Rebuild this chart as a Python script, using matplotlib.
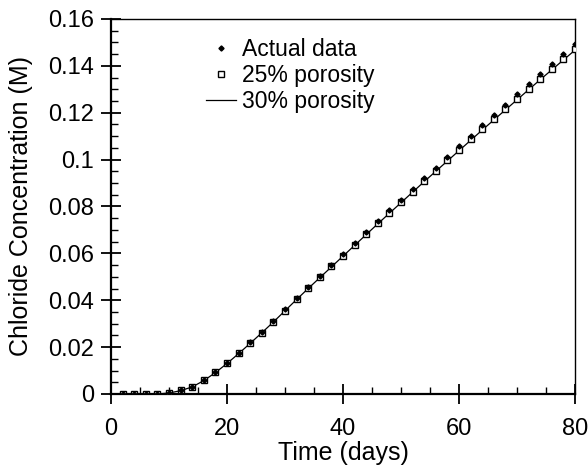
import matplotlib.pyplot as plt
from matplotlib.ticker import MultipleLocator

plt.rcParams['font.family'] = ['Liberation Sans', 'DejaVu Sans']

# sampling days
days = list(range(2, 82, 2))

# measured chloride concentration (M)
actual = [0.0, 0.0, 0.0, 0.0, 0.0006, 0.0016, 0.0031, 0.0060, 0.0094, 0.0133,
          0.0176, 0.0220, 0.0266, 0.0313, 0.0361, 0.0410, 0.0458, 0.0505, 0.0551, 0.0598,
          0.0644, 0.0691, 0.0737, 0.0783, 0.0829, 0.0875, 0.0921, 0.0966, 0.1011, 0.1056,
          0.1101, 0.1146, 0.1190, 0.1234, 0.1278, 0.1322, 0.1366, 0.1409, 0.1451, 0.1492]

# model, 25% porosity
por25 = [0.0, 0.0, 0.0, 0.0, 0.0005, 0.0015, 0.0030, 0.0058, 0.0092, 0.0131,
         0.0173, 0.0217, 0.0262, 0.0309, 0.0356, 0.0405, 0.0452, 0.0498, 0.0544, 0.0590,
         0.0636, 0.0682, 0.0728, 0.0773, 0.0818, 0.0863, 0.0908, 0.0953, 0.0997, 0.1041,
         0.1086, 0.1130, 0.1173, 0.1216, 0.1259, 0.1302, 0.1345, 0.1387, 0.1429, 0.1471]

# model, 30% porosity (continuous line)
line_days = [0] + days
por30 = [0.0, 0.0, 0.0, 0.0, 0.0, 0.0004, 0.0014, 0.0030, 0.0057, 0.0091, 0.0130,
         0.0172, 0.0216, 0.0261, 0.0307, 0.0355, 0.0403, 0.0450, 0.0496, 0.0542, 0.0588,
         0.0634, 0.0680, 0.0726, 0.0771, 0.0816, 0.0861, 0.0906, 0.0950, 0.0994, 0.1038,
         0.1082, 0.1126, 0.1169, 0.1212, 0.1255, 0.1298, 0.1341, 0.1383, 0.1425, 0.1467]

fig = plt.figure(figsize=(5.88, 4.69), dpi=100)
ax = fig.add_axes([0.1888, 0.16, 0.789, 0.7995])

ax.plot(line_days, por30, color='black', lw=0.9, label='30% porosity', zorder=2)
ax.plot(days, por25, ls='none', marker='s', ms=4.5, mfc='white', mec='black', mew=1.0,
        label='25% porosity', zorder=3)
ax.plot(days, actual, ls='none', marker='D', ms=2.6, mfc='black', mec='black',
        label='Actual data', zorder=4)

ax.set_xlim(0, 80)
ax.set_ylim(0, 0.16)
ax.xaxis.set_major_locator(MultipleLocator(20))
ax.xaxis.set_minor_locator(MultipleLocator(5))
ax.yaxis.set_major_locator(MultipleLocator(0.02))
ax.yaxis.set_minor_locator(MultipleLocator(0.005))
ax.yaxis.set_major_formatter(plt.FuncFormatter(lambda v, p: ('%g' % round(v, 3))))

ax.tick_params(which='major', direction='inout', length=14, width=1.3, labelsize=17,
               top=False, right=False, pad=5)
ax.tick_params(axis='x', which='major', pad=10)
ax.tick_params(which='minor', direction='in', length=5, width=1.0, top=False, right=False)

for s in ['left', 'bottom']:
    ax.spines[s].set_linewidth(1.6)
for s in ['top', 'right']:
    ax.spines[s].set_linewidth(1.0)

ax.set_xlabel('Time (days)', fontsize=18, labelpad=1)
ax.set_ylabel('Chloride Concentration (M)', fontsize=18, labelpad=11)

h, l = ax.get_legend_handles_labels()
order = [2, 1, 0]
ax.legend([h[i] for i in order], [l[i] for i in order], loc='upper left',
          bbox_to_anchor=(0.185, 0.975), frameon=False, fontsize=16.5, handlelength=1.3,
          handletextpad=0.25, labelspacing=0.15, borderaxespad=0)

plt.savefig('out.png', dpi=100)
